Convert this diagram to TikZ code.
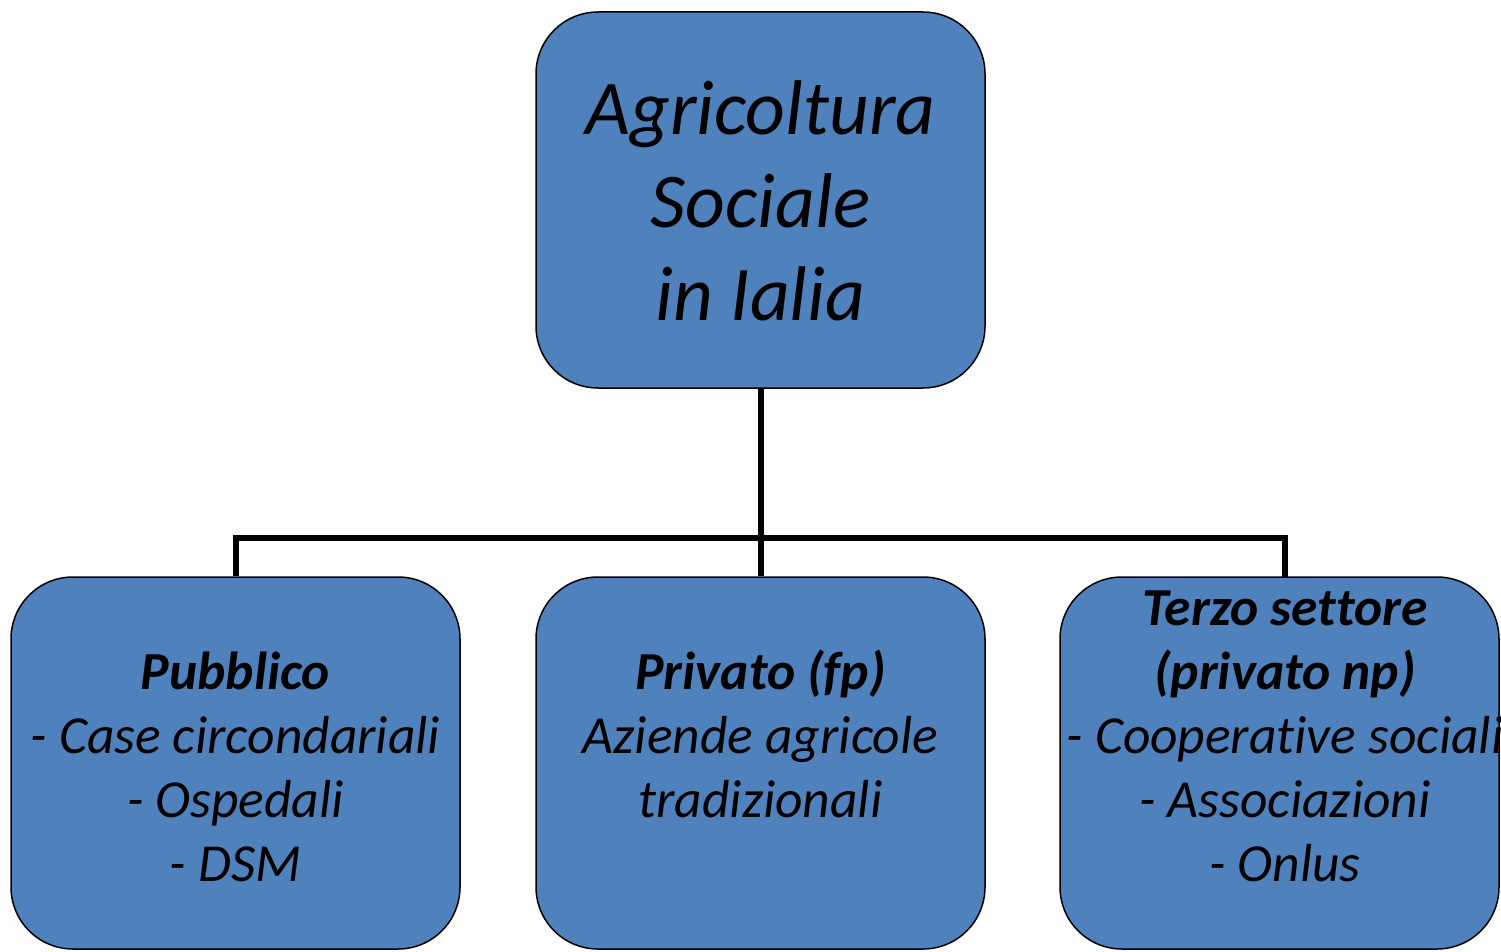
\documentclass[tikz,border=0pt]{standalone}
\usepackage{fontspec}
\setmainfont[Ligatures={NoCommon,TeX}]{Carlito}
\definecolor{boxblue}{HTML}{4F81BD}
\begin{document}
\begin{tikzpicture}[x=1pt,y=-1pt,
  box/.style={draw=black,line width=1.5pt,fill=boxblue,rounded corners=62pt,
    minimum width=449pt,minimum height=372pt,inner sep=0pt},
  topbox/.style={box,minimum height=376pt},
  bigtext/.style={align=center,inner sep=0pt,anchor=base,
    font=\fontsize{77.5}{93}\selectfont\itshape},
  smalltext/.style={align=center,inner sep=0pt,anchor=base,
    font=\fontsize{53.5}{64}\selectfont\itshape},
  link/.style={line width=6pt}]
\useasboundingbox (0,0) rectangle (1501,952);
\node[topbox] (top) at (760.5,200) {};
\node[box] (left) at (235.5,763) {};
\node[box] (mid) at (760.5,763) {};
\node[box,minimum width=439pt] (right) at (1279.5,763) {};
\node[bigtext] (ttop) at (760.5,320) {Agricoltura\\Sociale\\in Ialia};
\node[smalltext] (tleft) at (235.5,881) {\textbf{Pubblico}\\- Case circondariali\\- Ospedali\\- DSM};
\node[smalltext] (tmid) at (760.5,817) {\textbf{Privato (fp)}\\Aziende agricole\\tradizionali};
\node[smalltext] (tright) at (1285,881) {\textbf{Terzo settore}\\\textbf{(privato np)}\\- Cooperative sociali\\- Associazioni\\- Onlus};
\coordinate (j) at (760.5,538);
\draw[link] (top.south) -- (j);
\draw[link] (j) -- (mid.north);
\draw[link] (left.north) |- (j);
\draw[link] (j) -| (1285,577) coordinate (rj);
\end{tikzpicture}
\end{document}
